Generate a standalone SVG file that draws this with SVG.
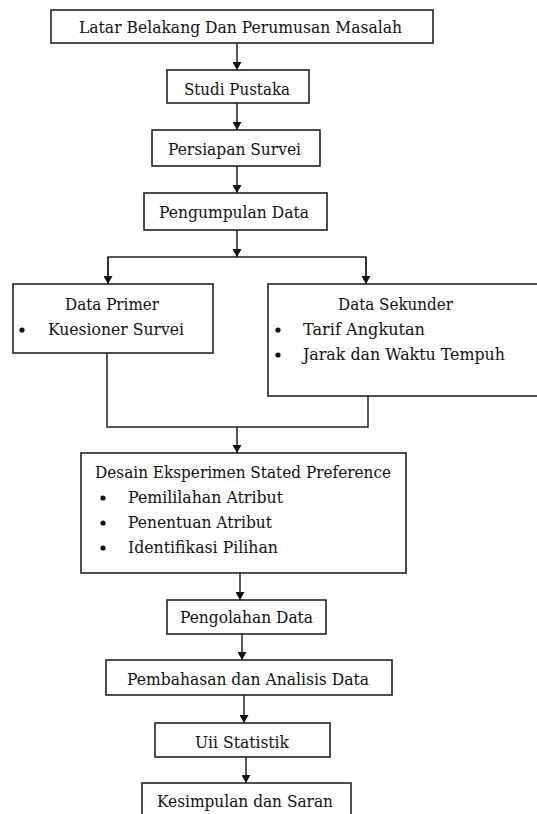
<svg xmlns="http://www.w3.org/2000/svg" width="537" height="814" viewBox="0 0 537 814">
<style>
.box{fill:#fff;stroke:#222;stroke-width:1.6}
.t{font-family:"DejaVu Serif","Liberation Serif",serif;font-size:16px;fill:#111}
.ln{stroke:#222;stroke-width:1.5;fill:none}
.bul{fill:#111}
</style>
<defs>
<marker id="ah" markerUnits="userSpaceOnUse" markerWidth="9" markerHeight="9" refX="8" refY="4.5" orient="auto">
<path d="M0,0 L8,4.5 L0,9 z" fill="#111"/>
</marker>
</defs>
<rect width="537" height="814" fill="#fff"/>
<g id="connectors">
<line class="ln" x1="237" y1="43" x2="237" y2="70" marker-end="url(#ah)"/>
<line class="ln" x1="237" y1="103" x2="237" y2="130" marker-end="url(#ah)"/>
<line class="ln" x1="237" y1="166" x2="237" y2="193" marker-end="url(#ah)"/>
<line class="ln" x1="237" y1="230" x2="237" y2="257" marker-end="url(#ah)"/>
<polyline class="ln" points="108,284 108,257 366,257 366,284"/>
<line class="ln" x1="108" y1="257" x2="108" y2="284" marker-end="url(#ah)"/>
<line class="ln" x1="366" y1="257" x2="366" y2="284" marker-end="url(#ah)"/>
<polyline class="ln" points="107,353 107,427 368,427 368,396"/>
<line class="ln" x1="237" y1="427" x2="237" y2="453" marker-end="url(#ah)"/>
<line class="ln" x1="240" y1="573" x2="240" y2="600" marker-end="url(#ah)"/>
<line class="ln" x1="242" y1="634" x2="242" y2="660" marker-end="url(#ah)"/>
<line class="ln" x1="244" y1="695" x2="244" y2="723" marker-end="url(#ah)"/>
<line class="ln" x1="246" y1="757" x2="246" y2="783" marker-end="url(#ah)"/>
</g>
<g id="latar">
<rect class="box" x="51" y="10" width="382" height="33"/>
<text class="t" x="79" y="33" textLength="323" lengthAdjust="spacingAndGlyphs">Latar Belakang Dan Perumusan Masalah</text>
</g>
<g id="studi">
<rect class="box" x="167" y="70" width="142" height="33"/>
<text class="t" x="184" y="95" textLength="106" lengthAdjust="spacingAndGlyphs">Studi Pustaka</text>
</g>
<g id="persiapan">
<rect class="box" x="152" y="130" width="168" height="36"/>
<text class="t" x="168" y="155" textLength="133" lengthAdjust="spacingAndGlyphs">Persiapan Survei</text>
</g>
<g id="pengumpulan">
<rect class="box" x="144" y="193" width="183" height="37"/>
<text class="t" x="159" y="218" textLength="150" lengthAdjust="spacingAndGlyphs">Pengumpulan Data</text>
</g>
<g id="primer">
<rect class="box" x="13" y="284" width="200" height="69"/>
<text class="t" x="65" y="310" textLength="94" lengthAdjust="spacingAndGlyphs">Data Primer</text>
<circle class="bul" cx="22" cy="330" r="2.6"/>
<text class="t" x="48" y="335" textLength="136" lengthAdjust="spacingAndGlyphs">Kuesioner Survei</text>
</g>
<g id="sekunder">
<rect class="box" x="268" y="284" width="275" height="112"/>
<text class="t" x="338" y="310" textLength="115" lengthAdjust="spacingAndGlyphs">Data Sekunder</text>
<circle class="bul" cx="278" cy="330" r="2.6"/>
<text class="t" x="303" y="335" textLength="122" lengthAdjust="spacingAndGlyphs">Tarif Angkutan</text>
<circle class="bul" cx="278" cy="355" r="2.6"/>
<text class="t" x="303" y="360" textLength="202" lengthAdjust="spacingAndGlyphs">Jarak dan Waktu Tempuh</text>
</g>
<g id="desain">
<rect class="box" x="81" y="453" width="325" height="120"/>
<text class="t" x="95" y="478" textLength="296" lengthAdjust="spacingAndGlyphs">Desain Eksperimen Stated Preference</text>
<circle class="bul" cx="103" cy="498" r="2.6"/>
<text class="t" x="128" y="503" textLength="155" lengthAdjust="spacingAndGlyphs">Pemililahan Atribut</text>
<circle class="bul" cx="103" cy="523" r="2.6"/>
<text class="t" x="128" y="528" textLength="144" lengthAdjust="spacingAndGlyphs">Penentuan Atribut</text>
<circle class="bul" cx="103" cy="548" r="2.6"/>
<text class="t" x="128" y="553" textLength="150" lengthAdjust="spacingAndGlyphs">Identifikasi Pilihan</text>
</g>
<g id="pengolahan">
<rect class="box" x="167" y="600" width="159" height="34"/>
<text class="t" x="180" y="623" textLength="133" lengthAdjust="spacingAndGlyphs">Pengolahan Data</text>
</g>
<g id="pembahasan">
<rect class="box" x="106" y="660" width="286" height="35"/>
<text class="t" x="127" y="685" textLength="242" lengthAdjust="spacingAndGlyphs">Pembahasan dan Analisis Data</text>
</g>
<g id="uji">
<rect class="box" x="155" y="723" width="175" height="34"/>
<text class="t" x="195" y="748" textLength="94" lengthAdjust="spacingAndGlyphs">Uii Statistik</text>
</g>
<g id="kesimpulan">
<rect class="box" x="142" y="783" width="209" height="40"/>
<text class="t" x="157" y="807" textLength="176" lengthAdjust="spacingAndGlyphs">Kesimpulan dan Saran</text>
</g>
</svg>
